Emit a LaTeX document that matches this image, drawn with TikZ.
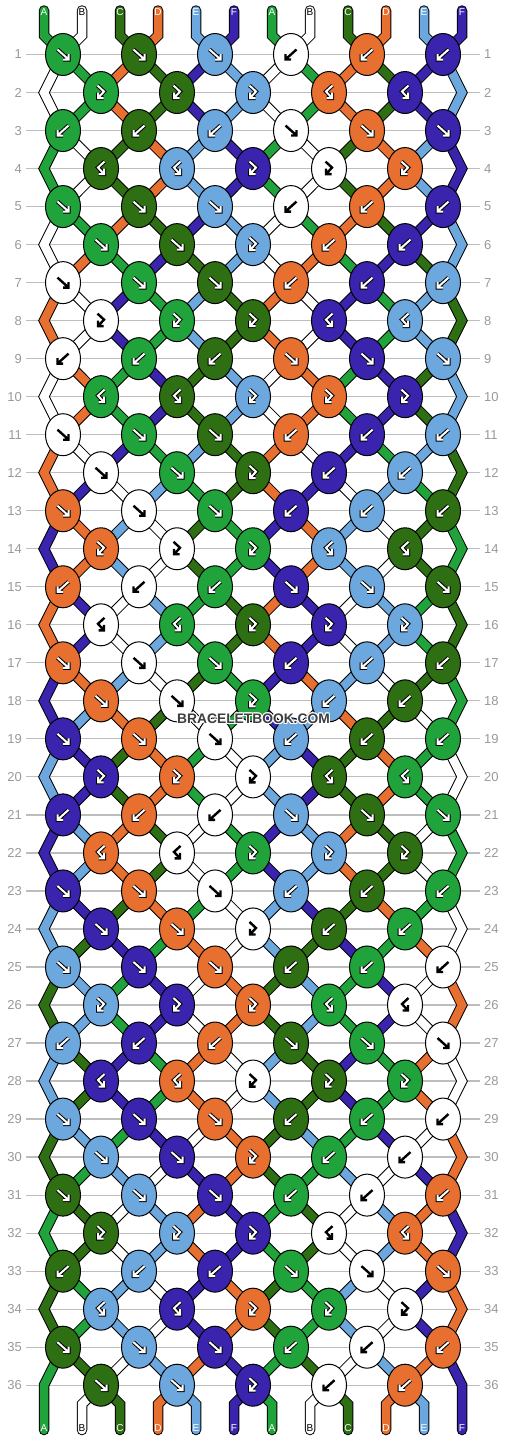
\documentclass[tikz,border=0pt]{standalone}
\usepackage{fontspec}
\setmainfont{Liberation Sans}
\usetikzlibrary{shapes.geometric}
\definecolor{cA}{HTML}{21A33B}
\definecolor{cB}{HTML}{FFFFFF}
\definecolor{cC}{HTML}{2E6F13}
\definecolor{cD}{HTML}{E77031}
\definecolor{cE}{HTML}{6CA8DE}
\definecolor{cF}{HTML}{3A23AD}
\definecolor{rowgray}{HTML}{BDBDBD}
\definecolor{numgray}{HTML}{9A9A9A}
\definecolor{wmgray}{HTML}{3E3E3E}
\tikzset{
  strandout/.style={line width=10.5pt,draw=black,line join=miter,line cap=butt},
  strandin/.style={line width=8.5pt,line join=miter,line cap=butt},
  stubout/.style={line width=10.5pt,draw=black,line join=miter,line cap=round},
  stubin/.style={line width=8.5pt,line join=miter,line cap=round},
  knot/.style={ellipse,draw=black,line width=1pt,minimum width=35pt,minimum height=42pt,inner sep=0pt},
  arrowout/.style={draw=black,line width=4pt,line join=miter,line cap=butt},
  arrowin/.style={draw=white,line width=2pt,line join=miter,line cap=butt},
  arrowblack/.style={draw=black,line width=2.4pt,line join=miter,line cap=butt},
  rowline/.style={draw=rowgray,line width=1.2pt},
  rownum/.style={text=numgray,inner sep=0pt,font=\fontsize{13}{13}\selectfont},
  strlbl/.style={inner sep=0pt,font=\fontsize{10}{10}\selectfont},
  wmtext/.style={inner sep=0pt,font=\bfseries\fontsize{13.8}{14}\selectfont},
}
\newcommand\mystrand[2]{\edef\strc{#1}\draw[strandout] #2;\draw[strandin,draw=\strc] #2;}
\newcommand\mystub[2]{\edef\strc{#1}\draw[stubout] #2;\draw[stubin,draw=\strc] #2;}
\newcommand\arrowA[1]{\draw[#1] (-5.5,-5) -- (4.5,4) (5.5,-0.5) -- (5.5,5) -- (0,5);}
\newcommand\arrowB[1]{\draw[#1] (5.5,-5) -- (-4.5,4) (-5.5,-0.5) -- (-5.5,5) -- (0,5);}
\newcommand\arrowC[1]{\draw[#1] (-3.5,-7) -- (3,-1) -- (-2.5,5) (-3,0) -- (-3,5.5) -- (2.5,5.5);}
\newcommand\arrowD[1]{\draw[#1] (3.5,-7) -- (-3,-1) -- (2.5,5) (3,0) -- (3,5.5) -- (-2.5,5.5);}
\begin{document}
\begin{tikzpicture}[x=1pt,y=-1pt]
\useasboundingbox (0,0) rectangle (506,1440);
\fill[white] (0,0) rectangle (506,1440);
% ---------- simulation of the strings
\foreach \cn [count=\i] in {cA,cB,cC,cD,cE,cF,cA,cB,cC,cD,cE,cF}
  {\expandafter\xdef\csname S-0-\i\endcsname{\cn}}
\foreach \rw in {1,...,36}{%
  \pgfmathtruncatemacro\prev{\rw-1}%
  \pgfmathtruncatemacro\md{mod(\rw,6)}%
  \ifcase\md\relax \gdef\types{1,1,3,2,2}\or \gdef\types{1,1,1,2,2,2}\or \gdef\types{3,3,3,4,4}\or \gdef\types{2,2,2,1,1,1}\or \gdef\types{4,4,3,3,3}\or \gdef\types{1,1,1,2,2,2}\fi
  \foreach \p in {1,...,12}{\expandafter\xdef\csname S-\rw-\p\endcsname{\csname S-\prev-\p\endcsname}}%
  \pgfmathtruncatemacro\odd{mod(\rw,2)}%
  \foreach \tp [count=\kk] in \types {%
    \ifnum\odd=1 \pgfmathtruncatemacro\pL{2*\kk-1}\else \pgfmathtruncatemacro\pL{2*\kk}\fi
    \pgfmathtruncatemacro\pR{\pL+1}%
    \edef\colL{\csname S-\prev-\pL\endcsname}%
    \edef\colR{\csname S-\prev-\pR\endcsname}%
    \ifodd\tp\relax \expandafter\xdef\csname K-\rw-\kk\endcsname{\colL}\else \expandafter\xdef\csname K-\rw-\kk\endcsname{\colR}\fi
    \expandafter\xdef\csname T-\rw-\kk\endcsname{\tp}%
    \ifnum\tp<3\relax
      \expandafter\xdef\csname S-\rw-\pL\endcsname{\colR}%
      \expandafter\xdef\csname S-\rw-\pR\endcsname{\colL}%
    \fi
  }%
}
% ---------- grid, row numbers, coordinates
\foreach \rw in {1,...,36}{%
  \pgfmathsetmacro\yy{54.5+(\rw-1)*38.02}%
  \draw[rowline] (26,\yy) -- (480,\yy);
  \node[rownum,anchor=east] (ln-\rw) at (22,\yy) {\rw};
  \node[rownum,anchor=west] (rn-\rw) at (484,\yy) {\rw};
  \pgfmathtruncatemacro\odd{mod(\rw,2)}%
  \ifnum\odd=1
    \foreach \kk in {1,...,6}{\coordinate (n-\rw-\kk) at ({76*\kk-13},\yy);}
  \else
    \foreach \kk in {1,...,5}{\coordinate (n-\rw-\kk) at ({76*\kk+25},\yy);}
    \coordinate (eL-\rw) at (44,\yy);
    \coordinate (eR-\rw) at (462,\yy);
  \fi
}
\foreach \i in {1,...,12}{%
  \pgfmathsetmacro\xx{44+38*(\i-1)}%
  \coordinate (top-\i) at (\xx,10.5);
  \coordinate (tbend-\i) at (\xx,35.5);
  \coordinate (bot-\i) at (\xx,1430);
  \coordinate (bbend-\i) at (\xx,1404.2);
}
% ---------- strands
\foreach \i in {1,...,12}{%
  \pgfmathtruncatemacro\kk{(\i+1)/2}%
  \mystub{\csname S-0-\i\endcsname}{(top-\i) -- (tbend-\i) -- (n-1-\kk)}
}
\foreach \rw in {2,4,...,34}{%
  \pgfmathtruncatemacro\pv{\rw-1}\pgfmathtruncatemacro\nx{\rw+1}%
  \mystrand{\csname S-\pv-1\endcsname}{(n-\pv-1) -- (eL-\rw) -- (n-\nx-1)}
  \mystrand{\csname S-\pv-12\endcsname}{(n-\pv-6) -- (eR-\rw) -- (n-\nx-6)}
}
\mystub{\csname S-35-1\endcsname}{(n-35-1) -- (eL-36) -- (bot-1)}
\mystub{\csname S-35-12\endcsname}{(n-35-6) -- (eR-36) -- (bot-12)}
\foreach \kk in {1,...,5}{%
  \pgfmathtruncatemacro\pa{2*\kk}\pgfmathtruncatemacro\pb{2*\kk+1}%
  \mystub{\csname S-36-\pa\endcsname}{(n-36-\kk) -- (bbend-\pa) -- (bot-\pa)}
  \mystub{\csname S-36-\pb\endcsname}{(n-36-\kk) -- (bbend-\pb) -- (bot-\pb)}
}
\foreach \rw in {1,...,35}{%
  \pgfmathtruncatemacro\nx{\rw+1}%
  \pgfmathtruncatemacro\odd{mod(\rw,2)}%
  \ifnum\odd=1
    \foreach \kk in {1,...,6}{%
      \pgfmathtruncatemacro\pa{2*\kk-1}\pgfmathtruncatemacro\pb{2*\kk}\pgfmathtruncatemacro\km{\kk-1}%
      \ifnum\kk>1 \mystrand{\csname S-\rw-\pa\endcsname}{(n-\rw-\kk) -- (n-\nx-\km)}\fi
      \ifnum\kk<6 \mystrand{\csname S-\rw-\pb\endcsname}{(n-\rw-\kk) -- (n-\nx-\kk)}\fi
    }
  \else
    \foreach \kk in {1,...,5}{%
      \pgfmathtruncatemacro\pa{2*\kk}\pgfmathtruncatemacro\pb{2*\kk+1}\pgfmathtruncatemacro\kp{\kk+1}%
      \mystrand{\csname S-\rw-\pa\endcsname}{(n-\rw-\kk) -- (n-\nx-\kk)}
      \mystrand{\csname S-\rw-\pb\endcsname}{(n-\rw-\kk) -- (n-\nx-\kp)}
    }
  \fi
}
% ---------- knots and arrows
\def\wname{cB}
\foreach \rw in {1,...,36}{%
  \pgfmathtruncatemacro\odd{mod(\rw,2)}%
  \ifnum\odd=1 \def\nk{6}\else \def\nk{5}\fi
  \foreach \kk in {1,...,\nk}{%
    \edef\kc{\csname K-\rw-\kk\endcsname}%
    \edef\kt{\csname T-\rw-\kk\endcsname}%
    \node[knot,fill=\kc] (k-\rw-\kk) at (n-\rw-\kk) {};
    \ifcase\kt\relax \or \let\ap\arrowA \or \let\ap\arrowB \or \let\ap\arrowC \or \let\ap\arrowD \fi
    \ifx\kc\wname
      \ap{arrowblack,shift={(k-\rw-\kk.center)}}
    \else
      \ap{arrowout,shift={(k-\rw-\kk.center)}}
      \ap{arrowin,shift={(k-\rw-\kk.center)}}
    \fi
  }%
}
% ---------- watermark
\foreach \dx/\dy [count=\h] in {-1/0,1/0,0/-1,0/1,-0.8/-0.8,0.8/0.8,-0.8/0.8,0.8/-0.8}
  \node[wmtext,text=white] (wmh-\h) at (253.5+\dx,719+\dy) {BRACELETBOOK.COM};
\node[wmtext,text=wmgray] (wm) at (253.5,719) {BRACELETBOOK.COM};
% ---------- string letters
\foreach \lt/\tc [count=\i] in {A/white,B/black,C/white,D/white,E/white,F/white,A/white,B/black,C/white,D/white,E/white,F/white}{%
  \pgfmathsetmacro\xx{44+38*(\i-1)}%
  \node[strlbl,text=\tc] (tl-\i) at (\xx,12.3) {\lt};
  \node[strlbl,text=\tc] (bl-\i) at (\xx,1428.2) {\lt};
}
\end{tikzpicture}
\end{document}
